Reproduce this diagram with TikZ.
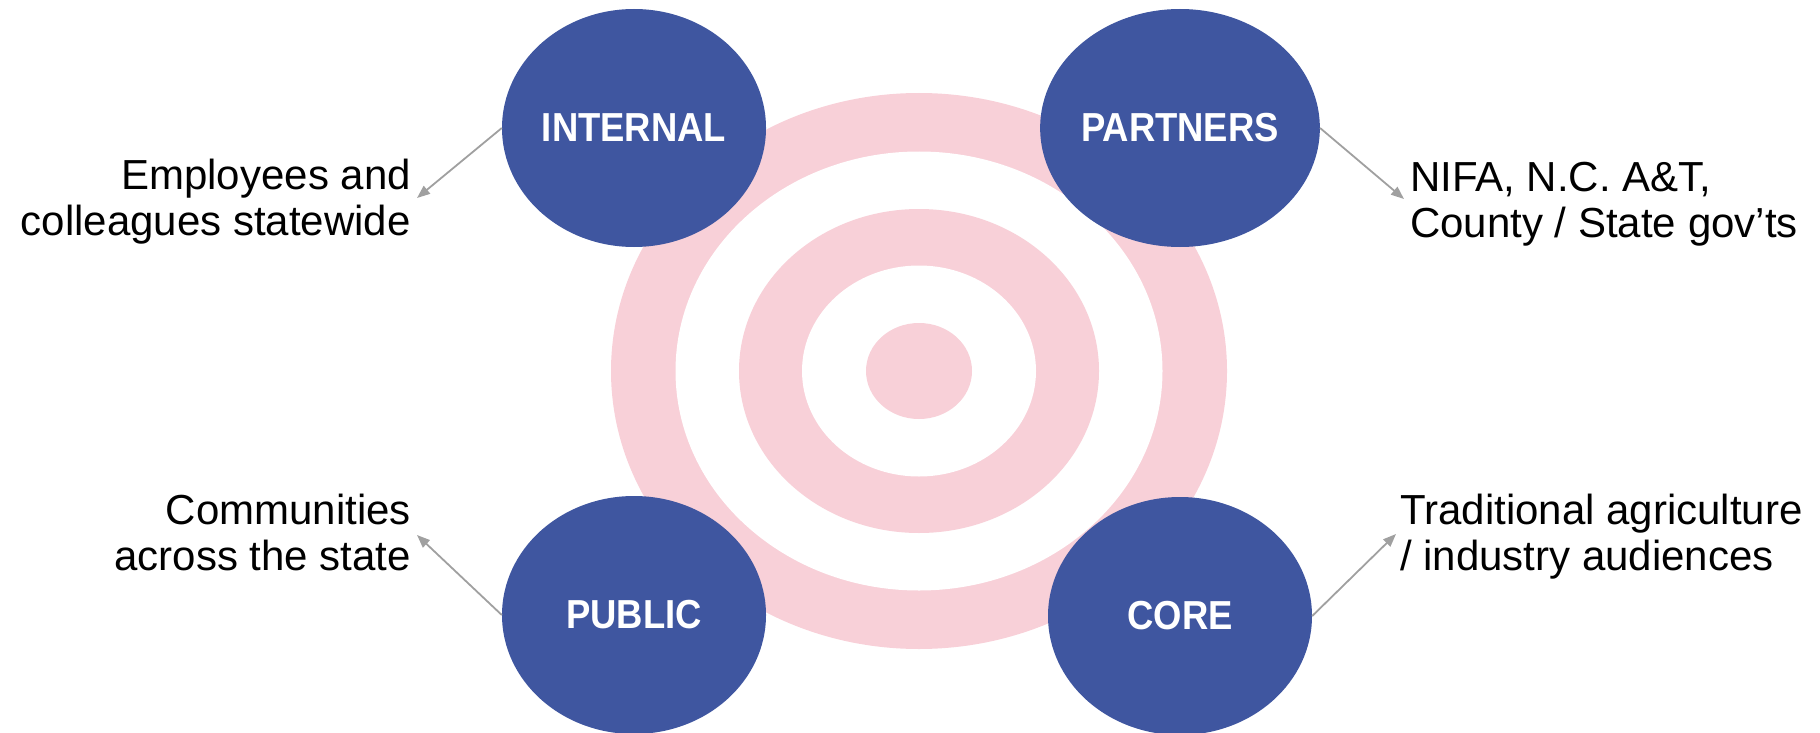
\documentclass[tikz,border=0pt]{standalone}
\usepackage{fontspec}
\setmainfont{Liberation Sans}
\newfontfamily\boldlab[FakeStretch=0.9]{Liberation Sans Bold}
\usetikzlibrary{shapes.geometric,arrows.meta}
\definecolor{bluec}{RGB}{63,86,160}
\definecolor{pinkc}{RGB}{248,208,216}
\definecolor{arrc}{RGB}{160,160,160}
\tikzset{
  blob/.style={ellipse, fill=bluec, minimum width=264pt, minimum height=238pt, inner sep=0pt,
    text=white, font=\boldlab\fontsize{40.5}{44}\selectfont},
  desc/.style={inner sep=0pt, font=\fontsize{42}{46}\selectfont, text=black},
  arr/.style={draw=arrc, line width=1.8pt, -{Triangle[length=13pt,width=10pt]}}
}
\begin{document}
\begin{tikzpicture}[x=1pt,y=-1pt]
\useasboundingbox (0,0) rectangle (1820,733);
% target rings
\fill[pinkc] (919,371) ellipse [x radius=308pt, y radius=278pt];
\fill[white] (919,371) ellipse [x radius=243.5pt, y radius=219.5pt];
\fill[pinkc] (919,371) ellipse [x radius=180pt, y radius=162pt];
\fill[white] (919,371) ellipse [x radius=117pt, y radius=105.5pt];
\fill[pinkc] (919,371) ellipse [x radius=53pt, y radius=48pt];
% audience circles
\node[blob] (internal) at (634,128) {INTERNAL};
\node[blob] (partners) at (1180,128) {PARTNERS};
\node[blob] (public) at (634,615) {PUBLIC};
\node[blob] (core) at (1180,616) {CORE};
% descriptions (anchor = baseline of the last line)
\node[desc, align=right, anchor=base east] (dint) at (411,235) {Employees and\\colleagues statewide};
\node[desc, align=left, anchor=base west] (dpar) at (1410,237) {NIFA, N.C. A\&T,\\County / State gov’ts};
\node[desc, align=right, anchor=base east] (dpub) at (411,570) {Communities\\across the state};
\node[desc, align=left, anchor=base west] (dcor) at (1400,570) {Traditional agriculture\\/ industry audiences};
% arrow ends
\coordinate (tint) at (417,198);
\coordinate (tpar) at (1404,199);
\coordinate (tpub) at (417,535);
\coordinate (tcor) at (1396,534);
\draw[arr] (internal.west) -- (tint);
\draw[arr] (partners.east) -- (tpar);
\draw[arr] (public.west) -- (tpub);
\draw[arr] (core.east) -- (tcor);
\end{tikzpicture}
\end{document}
